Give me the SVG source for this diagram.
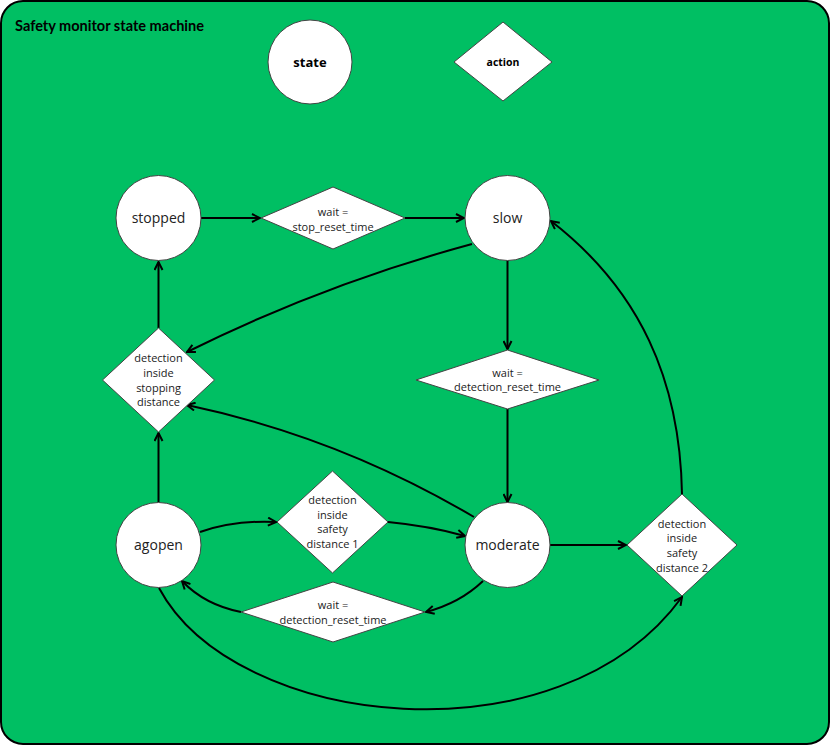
<svg xmlns="http://www.w3.org/2000/svg" width="831" height="746" viewBox="0 0 831 746">
  <style>
    .bg { fill: #00bf63; stroke: #000; stroke-width: 2; }
    .node { fill: #fff; stroke: #444; stroke-width: 1; }
    .t { font-family: "Open Sans", "Liberation Sans", sans-serif; fill: #222; text-anchor: middle; }
    .st { font-size: 14px; }
    .dt { font-size: 11px; }
    .b { font-weight: bold; fill: #000; }
    .edge { fill: none; stroke: #000; stroke-width: 2; marker-end: url(#arr); }
  </style>
  <defs>
    <marker id="arr" viewBox="0 0 10 10" refX="9" refY="5" markerWidth="5" markerHeight="5" orient="auto" markerUnits="strokeWidth">
      <path d="M1,1 L9,5 L1,9" fill="none" stroke="#000" stroke-width="2"/>
    </marker>
  </defs>

  <rect class="bg" x="1" y="1" width="828" height="743" rx="22" ry="22"/>
  <text x="15" y="31" font-family="Lato, 'Open Sans', sans-serif" font-size="14.5" font-weight="bold" fill="#000" textLength="189" lengthAdjust="spacingAndGlyphs">Safety monitor state machine</text>

  <g id="legend-state">
    <circle class="node" cx="310" cy="62" r="42"/>
    <text class="t b" x="310" y="67" font-size="13">state</text>
  </g>
  <g id="legend-action">
    <polygon class="node" points="503,22 552,62 503,101 454,62"/>
    <text class="t b" x="503" y="66" font-size="10.5">action</text>
  </g>

  <g id="connectors">
    <path id="e-stopped-wait1" class="edge" d="M201,218 L260,218"/>
    <path id="e-wait1-slow" class="edge" d="M405,218 L464,218"/>
    <path id="e-slow-dsd" class="edge" d="M472,244 Q324,284 187,352"/>
    <path id="e-dsd-stopped" class="edge" d="M158.5,328 L158.5,262"/>
    <path id="e-agopen-dsd" class="edge" d="M158.5,502 L158.5,433"/>
    <path id="e-moderate-dsd" class="edge" d="M474,517 Q339,437 187,405"/>
    <path id="e-slow-wait2" class="edge" d="M507.5,261 L507.5,349"/>
    <path id="e-wait2-moderate" class="edge" d="M507.5,409 L507.5,502"/>
    <path id="e-agopen-d1" class="edge" d="M200,532 Q235,520 276,522"/>
    <path id="e-d1-moderate" class="edge" d="M388,522 Q430,526 465,536"/>
    <path id="e-moderate-wait3" class="edge" d="M483,581 Q460,603 426,612"/>
    <path id="e-wait3-agopen" class="edge" d="M241,612 Q205,605 182,581"/>
    <path id="e-moderate-d2" class="edge" d="M550,545 L626,545"/>
    <path id="e-d2-slow" class="edge" d="M682,494 C680,380 640,290 551,221"/>
    <path id="e-agopen-d2" class="edge" d="M159,588 C235,730 560,765 682,597"/>
  </g>

  <g id="stopped">
    <circle class="node" cx="158.5" cy="218" r="42.5"/>
    <text class="t st" x="158.5" y="223">stopped</text>
  </g>
  <g id="wait-stop-reset">
    <polygon class="node" points="333,187 405,218 333,249 261,218"/>
    <text class="t dt" x="333" y="216">wait =</text>
    <text class="t dt" x="333" y="231">stop_reset_time</text>
  </g>
  <g id="slow">
    <circle class="node" cx="507.5" cy="218" r="42.5"/>
    <text class="t st" x="507.5" y="223">slow</text>
  </g>
  <g id="detection-stopping">
    <polygon class="node" points="158.5,328 214.5,380 158.5,432 102.5,380"/>
    <text class="t dt" x="158.5" y="362">detection</text>
    <text class="t dt" x="158.5" y="377">inside</text>
    <text class="t dt" x="158.5" y="392">stopping</text>
    <text class="t dt" x="158.5" y="406">distance</text>
  </g>
  <g id="wait-detection-reset-1">
    <polygon class="node" points="507.5,350 599,380 507.5,409 416,380"/>
    <text class="t dt" x="507.5" y="377">wait  =</text>
    <text class="t dt" x="507.5" y="391">detection_reset_time</text>
  </g>
  <g id="agopen">
    <circle class="node" cx="158.5" cy="545" r="42.5"/>
    <text class="t st" x="158.5" y="550">agopen</text>
  </g>
  <g id="detection-safety-1">
    <polygon class="node" points="332.5,471 388,522 332.5,573 277,522"/>
    <text class="t dt" x="332.5" y="504">detection</text>
    <text class="t dt" x="332.5" y="519">inside</text>
    <text class="t dt" x="332.5" y="533">safety</text>
    <text class="t dt" x="332.5" y="548">distance 1</text>
  </g>
  <g id="moderate">
    <circle class="node" cx="507.5" cy="545" r="42.5"/>
    <text class="t st" x="507.5" y="550">moderate</text>
  </g>
  <g id="detection-safety-2">
    <polygon class="node" points="682,494 737,545 682,596 627,545"/>
    <text class="t dt" x="682" y="528">detection</text>
    <text class="t dt" x="682" y="542">inside</text>
    <text class="t dt" x="682" y="557">safety</text>
    <text class="t dt" x="682" y="572">distance 2</text>
  </g>
  <g id="wait-detection-reset-2">
    <polygon class="node" points="333,582 425,612 333,642 241,612"/>
    <text class="t dt" x="333" y="609">wait  =</text>
    <text class="t dt" x="333" y="624">detection_reset_time</text>
  </g>
</svg>
